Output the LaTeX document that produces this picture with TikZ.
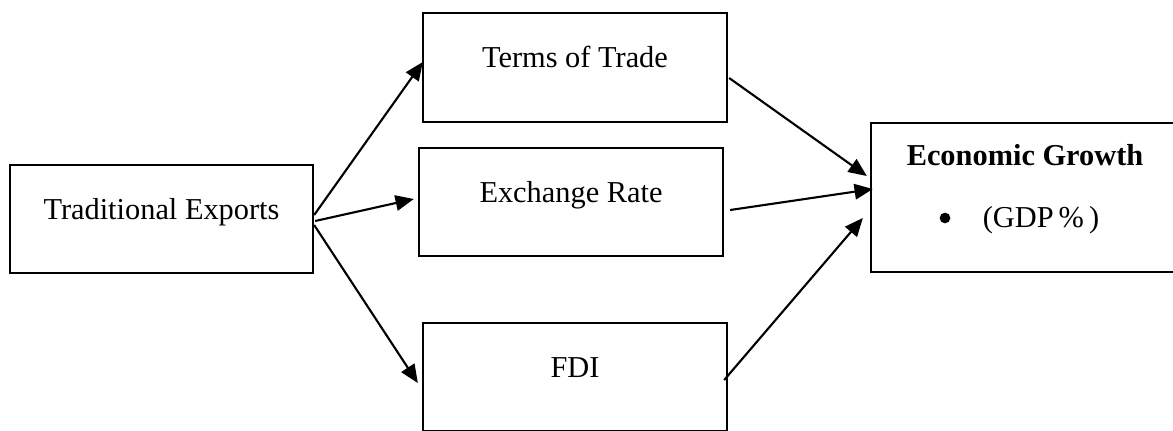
\documentclass[tikz,border=0pt]{standalone}
\usepackage{fontspec}
\setmainfont{Liberation Serif}
\usetikzlibrary{arrows.meta, calc}

\tikzset{
	box/.style={draw, line width=1.6pt, minimum width=7.6cm, minimum height=2.7cm},
	txt/.style={font=\fontsize{21.6pt}{26pt}\selectfont, text height=0pt, text depth=0pt, inner sep=0pt},
	dot/.style={circle, fill, inner sep=0pt, minimum size=7.6pt},
	conn/.style={line width=1.5pt, -{Triangle[length=13pt, width=11pt]}}
}

\begin{document}
\begin{tikzpicture}[x=0.025cm, y=-0.025cm]
	\useasboundingbox (0, 0) rectangle (1173, 430);
	\clip (0, 0) rectangle (1173, 430);

	\node [box, minimum width=7.575cm] (exports) at (161.5, 219) {};
	\node [box, minimum height=2.725cm] (terms) at (575, 67.5) {};
	\node [box] (exchange) at (571, 202) {};
	\node [box] (fdi) at (575, 377) {};
	\node [box, minimum height=3.725cm] (growth) at (1023, 197.5) {};

	\node [txt] (exportstxt) at (exports.center) {Traditional Exports};
	\node [txt] (termstxt) at (terms.center) {Terms of Trade};
	\node [txt] (exchangetxt) at (exchange.center) {Exchange Rate};
	\node [txt] (fditxt) at (fdi.center) {FDI};

	\node [txt, font=\fontsize{21.6pt}{26pt}\selectfont\bfseries] (growthtxt) at ($(growth.center) + (2, -32.5)$) {Economic Growth};
	\node [dot] (bullet) at ($(growth.center) + (-78, 20.5)$) {};
	\node [txt] (gdp) at ($(growth.center) + (18, 29.5)$) {(GDP\,\%\,)};

	\draw [conn] ($(exports.east) + (0, -4)$) -- ($(terms.west) + (1, -5.5)$);
	\draw [conn] ($(exports.east) + (1, 2)$) -- ($(exchange.west) + (-4, -3)$);
	\draw [conn] ($(exports.east) + (0, 6)$) -- ($(fdi.west) + (-4, 6)$);

	\draw [conn] ($(terms.east) + (1, 10.5)$) -- ($(growth.west) + (-3, -21.5)$);
	\draw [conn] ($(exchange.east) + (6, 8)$) -- ($(growth.west) + (3, -8.5)$);
	\draw [conn] ($(fdi.east) + (-4, 3)$) -- ($(growth.west) + (-7, 20.5)$);
\end{tikzpicture}
\end{document}
